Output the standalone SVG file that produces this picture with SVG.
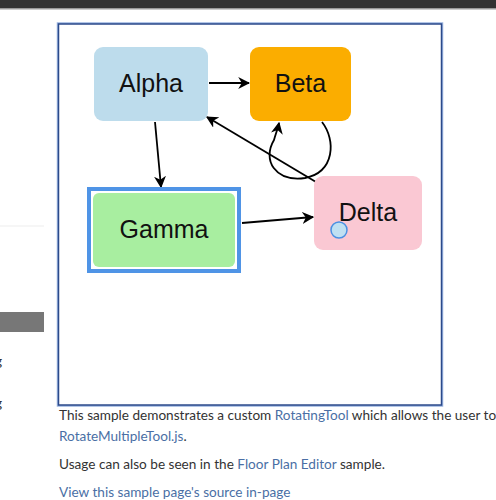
<svg xmlns="http://www.w3.org/2000/svg" width="496" height="500" viewBox="0 0 496 500">
<style>
.lbl{font-family:"Liberation Sans",Arial,sans-serif;font-size:25px;fill:#111;text-anchor:middle}
.edge{fill:none;stroke:#000;stroke-width:1.8}
.p{font-family:Lato,"Liberation Sans",sans-serif;font-size:13.6px;fill:#333}
.a{fill:#4a6fa5}
</style>
<defs>
<marker id="ah" viewBox="0 0 10 10" refX="9" refY="5" markerWidth="12" markerHeight="12" markerUnits="userSpaceOnUse" orient="auto">
<path d="M0,0 L10,5 L0,10 L3,5 Z" fill="#000"/>
</marker>
</defs>
<rect x="0" y="0" width="496" height="500" fill="#fff"/>
<rect x="0" y="0" width="496" height="8" fill="#333"/>
<rect x="0" y="8" width="496" height="1.5" fill="#999"/>
<g id="sidebar">
<rect x="0" y="225.5" width="44" height="1" fill="#eee"/>
<rect x="0" y="312" width="44" height="20" fill="#777"/>
<text x="-5" y="366" class="p">g</text>
<text x="-5" y="408" class="p">g</text>
</g>
<g id="frame">
<rect x="58.5" y="24" width="383" height="381" fill="none" stroke="#9ab4e0" stroke-width="3.5"/>
<rect x="58.5" y="24" width="383" height="381" fill="#fff" stroke="#2c4a8a" stroke-width="1.5"/>
</g>
<g id="connectors">
<line class="edge" x1="209" y1="83" x2="249" y2="83" marker-end="url(#ah)"/>
<line class="edge" x1="155" y1="122" x2="161" y2="187" marker-end="url(#ah)"/>
<line class="edge" x1="242" y1="223" x2="313" y2="217" marker-end="url(#ah)"/>
<line class="edge" x1="316" y1="182" x2="207" y2="117" marker-end="url(#ah)"/>
<path class="edge" d="M322,122 C336,140 335,172 305,178 C275,182 262,160 274,140 C276,133 278,128 279,123" marker-end="url(#ah)"/>
</g>
<g id="alpha">
<rect x="94" y="47" width="114" height="74" rx="9" fill="#bddcec"/>
<text x="151" y="92" class="lbl">Alpha</text>
</g>
<g id="beta">
<rect x="250" y="47" width="101" height="74" rx="9" fill="#fbad00"/>
<text x="300.5" y="92" class="lbl">Beta</text>
</g>
<g id="gamma">
<rect x="89" y="189" width="150" height="82" fill="#fff" stroke="#4f94e6" stroke-width="4"/>
<rect x="93" y="193" width="142" height="74" rx="6" fill="#a8eea0"/>
<text x="164" y="238" class="lbl">Gamma</text>
</g>
<g id="delta">
<rect x="314" y="176" width="108" height="74" rx="9" fill="#fac8d3"/>
<text x="368" y="221" class="lbl">Delta</text>
<circle cx="339" cy="230" r="8" fill="#bfe0f2" stroke="#4a90e2" stroke-width="1.5"/>
</g>
<g id="text">
<text x="59" y="420" class="p">This sample demonstrates a custom <tspan class="a">RotatingTool</tspan> which allows the user to r</text>
<text x="59" y="441" class="p"><tspan class="a">RotateMultipleTool.js</tspan>.</text>
<text x="59" y="469" class="p">Usage can also be seen in the <tspan class="a">Floor Plan Editor</tspan> sample.</text>
<text x="59" y="497" class="p a">View this sample page's source in-page</text>
</g>
</svg>
